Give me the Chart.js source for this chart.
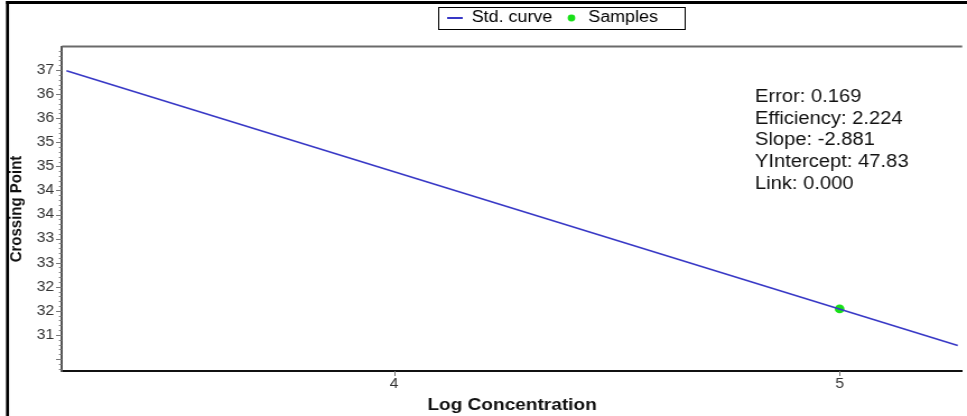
<!DOCTYPE html>
<html>
<head>
<meta charset="utf-8">
<script src="https://cdn.jsdelivr.net/npm/chart.js@4.4.0/dist/chart.umd.min.js"></script>
<style>
  html, body { margin: 0; padding: 0; background: #fff; overflow: hidden; }
</style>
</head>
<body>
<canvas id="c" width="863" height="416" style="width:967px;height:416px;display:block"></canvas>
<script>
// standard curve (Log Concentration -> Crossing Point)
var stdX = [3.265, 5.265];
var stdY = [36.985, 31.28];
// measured samples
var sampleX = [5.0];
var sampleY = [32.04];

var xTicks = [4, 5];
var xTickLabels = ["4", "5"];
var yTicks = [31.5, 32, 32.5, 33, 33.5, 34, 34.5, 35, 35.5, 36, 36.5, 37];
var yTickLabels = ["31", "32", "32", "33", "33", "34", "34", "35", "35", "36", "36", "37"];

var statLines = ["Error: 0.169", "Efficiency: 2.224", "Slope: -2.881", "YIntercept: 47.83", "Link: 0.000"];

// the original picture is stretched sideways, so draw narrower and let css widen it
var SX = 967 / 863;
var FONT = "'Liberation Sans', Arial, sans-serif";
Chart.defaults.font.family = FONT;

function lineMark(color) {
  var c = document.createElement("canvas");
  c.width = 14; c.height = 2;
  var g = c.getContext("2d");
  g.fillStyle = color;
  g.fillRect(0, 0, 14, 2);
  return c;
}
function dotMark(color) {
  var c = document.createElement("canvas");
  c.width = 8; c.height = 8;
  var g = c.getContext("2d");
  g.fillStyle = color;
  g.beginPath();
  g.arc(4, 4, 3.4, 0, Math.PI * 2);
  g.fill();
  return c;
}

var decor = {
  id: "decor",
  beforeLayout: function (chart) {
    var lg = chart.legend;
    if (lg && !lg._fixed) {
      var fit = lg.fit.bind(lg);
      lg.fit = function () { fit(); this.height = 47; };
      lg._fixed = true;
    }
  },
  afterLayout: function (chart) {
    var lg = chart.legend;
    var p = lg.options.labels.padding;
    var start = (lg.left + p + lg.right - lg.lineWidths[0]) / 2;
    var dx = 447 / SX - start;
    lg.left += dx;
    lg.right += dx;
  },
  beforeDraw: function (chart) {
    var ctx = chart.ctx;
    ctx.save();
    ctx.fillStyle = "#fff";
    ctx.fillRect(0, 0, chart.width, chart.height);
    ctx.fillStyle = "#000";
    ctx.fillRect(6 / SX, 1, chart.width, 3);
    ctx.fillRect(6 / SX, 1, 3 / SX, chart.height);
    ctx.restore();
  },
  afterDraw: function (chart) {
    var ctx = chart.ctx, a = chart.chartArea;
    var xs = chart.scales.x, ys = chart.scales.y;
    ctx.save();
    // top edge of plot
    ctx.strokeStyle = "#6a6a6a";
    ctx.lineWidth = 2;
    ctx.beginPath();
    ctx.moveTo(a.left, a.top - 0.5);
    ctx.lineTo(a.right, a.top - 0.5);
    ctx.stroke();
    // tick marks
    ctx.strokeStyle = "#777";
    ctx.lineWidth = 1;
    ctx.beginPath();
    for (var k = 308; k <= 374; k++) {
      var py = Math.round(ys.getPixelForValue(k / 10)) + 0.5;
      var len = (k % 5 === 0 ? 6 : 3) / SX;
      ctx.moveTo(a.left - len, py);
      ctx.lineTo(a.left, py);
    }
    xTicks.forEach(function (v) {
      var px = Math.round(xs.getPixelForValue(v)) + 0.5;
      ctx.moveTo(px, a.bottom);
      ctx.lineTo(px, a.bottom + 5);
    });
    ctx.stroke();
    // legend frame
    var hb = chart.legend.legendHitBoxes;
    var first = hb[0], last = hb[hb.length - 1];
    ctx.strokeStyle = "#000";
    ctx.lineWidth = 1;
    var l = Math.round(first.left - 9 / SX) + 0.5;
    var r = Math.round(last.left + last.width + 27 / SX) + 0.5;
    ctx.strokeRect(l, 7.5, r - l, 22);
    // fit statistics
    ctx.fillStyle = "#111";
    ctx.font = "18px " + FONT;
    ctx.textBaseline = "alphabetic";
    statLines.forEach(function (t, i) {
      ctx.fillText(t, 755 / SX, 102 + i * 21.7);
    });
    ctx.restore();
  }
};

var ctx = document.getElementById("c").getContext("2d");
var chart = new Chart(ctx, {
  type: "scatter",
  data: {
    datasets: [
      {
        label: "Std. curve",
        data: stdX.map(function (x, i) { return { x: x, y: stdY[i] }; }),
        showLine: true,
        borderColor: "#3838c6",
        borderWidth: 1.6,
        pointRadius: 0,
        fill: false
      },
      {
        label: "Samples",
        data: sampleX.map(function (x, i) { return { x: x, y: sampleY[i] }; }),
        pointRadius: 4.3,
        pointStyle: "circle",
        backgroundColor: "#18e018",
        borderWidth: 0
      }
    ]
  },
  options: {
    responsive: false,
    devicePixelRatio: 1,
    animation: false,
    layout: { padding: 0 },
    plugins: {
      tooltip: { enabled: false },
      legend: {
        display: true,
        position: "top",
        labels: {
          usePointStyle: true,
          boxWidth: 14,
          padding: 10,
          color: "#000",
          font: { size: 16 },
          generateLabels: function (chart) {
            var items = Chart.defaults.plugins.legend.labels.generateLabels(chart);
            items[0].pointStyle = lineMark("#3838c6");
            items[1].pointStyle = dotMark("#18e018");
            return items;
          }
        }
      }
    },
    scales: {
      x: {
        type: "linear",
        min: 3.255,
        max: 5.275,
        afterBuildTicks: function (s) { s.ticks = xTicks.map(function (v) { return { value: v }; }); },
        afterFit: function (s) { s.height = 45; },
        grid: { display: false, drawTicks: false },
        border: { display: true, color: "#111", width: 2 },
        ticks: {
          autoSkip: false,
          maxRotation: 0,
          padding: 5,
          color: "#333",
          font: { size: 14 },
          callback: function (v, i) { return xTickLabels[i]; }
        },
        title: {
          display: true,
          text: "Log Concentration",
          color: "#111",
          font: { size: 17, weight: "bold" },
          padding: { top: 0, bottom: 0 }
        }
      },
      y: {
        type: "linear",
        min: 30.75,
        max: 37.48,
        afterBuildTicks: function (s) { s.ticks = yTicks.map(function (v) { return { value: v }; }); },
        afterFit: function (s) { s.width = 62 / SX; },
        grid: { display: false, drawTicks: false },
        border: { display: true, color: "#555", width: 2 },
        ticks: {
          autoSkip: false,
          padding: 7,
          color: "#333",
          font: { size: 14 },
          callback: function (v, i) { return yTickLabels[i]; }
        },
        title: {
          display: true,
          text: "Crossing Point",
          color: "#111",
          font: { size: 15, weight: "bold" },
          padding: { top: 6, bottom: 0 }
        }
      }
    }
  },
  plugins: [decor]
});
</script>
</body>
</html>
